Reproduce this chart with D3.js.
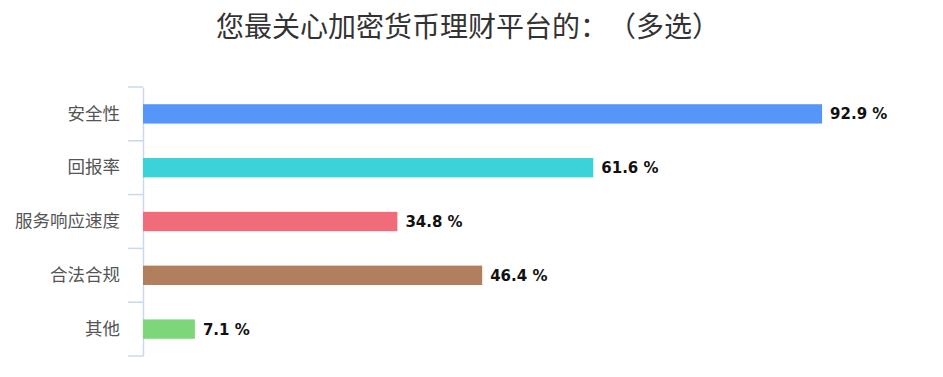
<!DOCTYPE html>
<html><head><meta charset="utf-8">
<script src="https://cdn.jsdelivr.net/npm/d3@7"></script>
<style>body{margin:0;background:#fff;} text{text-spacing-trim: space-all;}</style>
</head><body>
<svg id="c" width="943" height="377"></svg>
<script>
const categories = ["安全性","回报率","服务响应速度","合法合规","其他"];
const values = [92.9, 61.6, 34.8, 46.4, 7.1];
const colors = ["#5597F9","#3BD3D9","#F06C79","#B27F5E","#7DD677"];
const title = "您最关心加密货币理财平台的：（多选）";

(function(){
const svg = d3.select("#c");
const mLeft = 143, mTop = 87, mBottom = 356;
const x = d3.scaleLinear().domain([0, 100]).range([mLeft, mLeft + 731]);
const y = d3.scaleBand().domain(categories).range([mTop, mBottom]).paddingInner(0.64).paddingOuter(0.32);

svg.append("text").attr("x", 216).attr("y", 37).attr("text-anchor","start")
  .attr("font-family","'Noto Sans CJK SC', sans-serif").attr("font-size", 28).attr("fill","#333").text(title);

const yb = d3.scaleBand().domain(categories).range([mTop, mBottom]);
const ax = svg.append("g").attr("transform",`translate(${mLeft},0)`)
  .call(d3.axisLeft(yb).tickSize(0).tickPadding(23));
ax.select(".domain").attr("stroke","#CBD8EE").attr("stroke-width",1.5);
ax.selectAll("text").attr("font-family","'Noto Sans CJK SC', sans-serif").attr("font-size",17.5).attr("fill","#555");
const bounds = categories.map(c => yb(c)).concat([mBottom]);
svg.append("g").selectAll("line").data(bounds).join("line")
  .attr("x1", mLeft-15).attr("x2", mLeft).attr("y1", d=>d).attr("y2", d=>d)
  .attr("stroke","#CBD8EE").attr("stroke-width",1.5);

svg.append("g").selectAll("rect").data(values).join("rect")
  .attr("x", mLeft).attr("y", (d,i)=>y(categories[i]))
  .attr("width", d=>x(d)-mLeft).attr("height", y.bandwidth())
  .attr("fill",(d,i)=>colors[i]);

svg.append("g").selectAll("text").data(values).join("text")
  .attr("x", d=>x(d)+8).attr("y",(d,i)=>y(categories[i])+y.bandwidth()/2)
  .attr("dy","0.36em").attr("font-family","'DejaVu Sans', sans-serif").attr("font-weight","bold")
  .attr("font-size",15).attr("fill","#111").text(d=>d.toFixed(1)+" %");
})();
</script>
</body></html>
